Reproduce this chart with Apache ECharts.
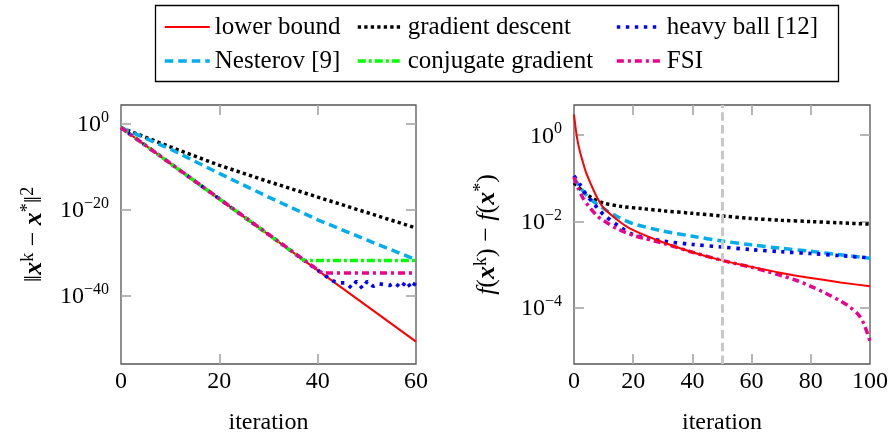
<!DOCTYPE html>
<html>
<head>
<meta charset="utf-8">
<script src="https://cdn.jsdelivr.net/npm/echarts@6/dist/echarts.min.js"></script>
<style>
  html, body { margin: 0; padding: 0; background: #fff; }
  #chart { width: 890px; height: 435px; }
</style>
</head>
<body>
<div id="chart"></div>
<script>
// all y values are log10 of the plotted quantity, [iteration, log10 value]
// left panel: ||x^k - x*||^2
const leftLowerBound = [[0, -0.93], [60, -50.8]];
const leftGradient = [[0, -0.93], [10, -5.4], [20, -9.7], [30, -13.5], [40, -17.1], [50, -20.7], [60, -24.3]];
const leftHeavyBall = [[0, -0.93], [42, -35.8], [42.7, -36.5], [44.3, -37.1], [45.7, -37.1], [46.9, -38.3],
  [47.9, -36.7], [49.1, -38.4], [50.1, -36.7], [51.3, -37.9], [52.4, -37.3], [53.5, -37.5], [54.6, -37.7],
  [55.7, -37.1], [56.9, -38.3], [58, -36.7], [59.1, -38.4], [60, -36.8]];
const leftNesterov = [[0, -0.93], [10, -5.9], [20, -11.6], [30, -17.1], [40, -22.4], [50, -27.1], [60, -31.7]];
const leftConjugate = [[0, -0.93], [37.3, -31.9], [60, -31.9]];
const leftFSI = [[0, -0.93], [40.9, -34.8], [60, -34.8]];

// right panel: f(x^k) - f(x*)
const rightLowerBound = [[0, 0.48], [1, -0.05], [2, -0.38], [3, -0.62], [4, -0.85], [6, -1.18], [8, -1.47],
  [10, -1.68], [15, -1.98], [20, -2.2], [30, -2.48], [40, -2.71], [50, -2.9], [60, -3.05], [70, -3.19],
  [80, -3.31], [90, -3.41], [100, -3.5]];
const rightGradient = [[0, -1.1], [1, -1.17], [3, -1.3], [6, -1.45], [10, -1.57], [16, -1.65], [23, -1.7],
  [30, -1.75], [40, -1.81], [50, -1.87], [60, -1.93], [70, -1.97], [80, -2.0], [90, -2.03], [100, -2.06]];
const rightNesterov = [[0, -0.99], [2, -1.2], [5, -1.45], [10, -1.7], [15, -1.9], [20, -2.05], [30, -2.22],
  [40, -2.34], [50, -2.45], [60, -2.54], [70, -2.62], [80, -2.69], [90, -2.77], [100, -2.85]];
const rightHeavyBall = [[0, -0.94], [2, -1.14], [4, -1.37], [6, -1.53], [8, -1.69], [10, -1.84], [15, -2.1],
  [20, -2.3], [30, -2.45], [40, -2.53], [50, -2.59], [60, -2.65], [70, -2.7], [80, -2.74], [90, -2.79], [100, -2.84]];
const rightFSI = [[0, -0.97], [1.5, -1.24], [3, -1.45], [5, -1.65], [8, -1.88], [10, -1.98], [15, -2.18],
  [20, -2.32], [30, -2.5], [40, -2.71], [50, -2.9], [60, -3.06], [65, -3.15], [70, -3.25], [75, -3.36],
  [80, -3.5], [85, -3.66], [90, -3.84], [93, -3.97], [96, -4.15], [98, -4.38], [100, -4.78]];

const leftYTicks = [-40, -20, 0];
const rightYTicks = [-4, -2, 0];
const leftXTicks = [0, 20, 40, 60];
const rightXTicks = [0, 20, 40, 60, 80, 100];
const markerIteration = 50;

const FONT = 'Liberation Serif';
const names = {
  lb: 'lower bound', gd: 'gradient descent', hb: 'heavy ball [12]',
  nes: 'Nesterov [9]', cg: 'conjugate gradient', fsi: 'FSI'
};
const styles = {
  lb: { color: '#ff0000', width: 2, type: 'solid' },
  gd: { color: '#000000', width: 3.5, type: [3.3, 3.2] },
  hb: { color: '#0000ff', width: 3.7, type: [3.4, 5.6] },
  nes: { color: '#00aeef', width: 3.5, type: [8.5, 5] },
  cg: { color: '#00ff00', width: 3.5, type: [8, 3, 3, 3] },
  fsi: { color: '#ec008c', width: 3.5, type: [7, 4, 3, 4] }
};

const rich = {
  n: { fontFamily: FONT, fontSize: 26, color: '#000', verticalAlign: 'bottom', lineHeight: 30 },
  i: { fontFamily: FONT, fontSize: 26, color: '#000', fontStyle: 'italic', verticalAlign: 'bottom', lineHeight: 30 },
  bx: { fontFamily: FONT, fontSize: 26, color: '#000', fontStyle: 'italic', fontWeight: 'bold', verticalAlign: 'bottom', lineHeight: 30 },
  s: { fontFamily: FONT, fontSize: 18, color: '#000', verticalAlign: 'bottom', lineHeight: 18, padding: [0, 0, 10, 0] }
};
const tickRich = {
  b: { fontFamily: FONT, fontSize: 24, color: '#000', verticalAlign: 'bottom', lineHeight: 26 },
  s: { fontFamily: FONT, fontSize: 16, color: '#000', verticalAlign: 'bottom', lineHeight: 16, padding: [0, 0, 11, 0] }
};

function powLabel(v) {
  const e = Math.round(v);
  return '{b|10}{s|' + (e < 0 ? '\u2212' + Math.abs(e) : e) + '}';
}

const tickStyle = { show: true, inside: true, length: 10, lineStyle: { color: '#aaaaaa', width: 1.7 } };
const noLine = { show: false, onZero: false };

function xAxes(gridIndex, max, ticks) {
  const inner = ticks.filter(t => t > 0 && t < max);
  return [
    {
      type: 'value', gridIndex: gridIndex, min: 0, max: max, interval: 20, position: 'bottom',
      axisLine: noLine, splitLine: { show: false },
      axisTick: Object.assign({ customValues: inner }, tickStyle),
      axisLabel: { customValues: ticks, margin: 6, fontFamily: FONT, fontSize: 24, color: '#000' },
      name: 'iteration', nameLocation: 'middle', nameGap: 47,
      nameTextStyle: { fontFamily: FONT, fontSize: 24, color: '#000' }
    },
    {
      type: 'value', gridIndex: gridIndex, min: 0, max: max, interval: 20, position: 'top',
      axisLine: noLine, splitLine: { show: false },
      axisTick: Object.assign({ customValues: inner }, tickStyle),
      axisLabel: { show: false }
    }
  ];
}

function yAxes(gridIndex, min, max, ticks, name) {
  return [
    {
      type: 'value', gridIndex: gridIndex, min: min, max: max, position: 'left',
      axisLine: noLine, splitLine: { show: false },
      axisTick: Object.assign({ customValues: ticks }, tickStyle),
      axisLabel: { customValues: ticks, margin: 12, formatter: powLabel, rich: tickRich },
      name: name, nameLocation: 'middle', nameGap: 74, nameRotate: 90,
      nameTextStyle: { rich: rich }
    },
    {
      type: 'value', gridIndex: gridIndex, min: min, max: max, position: 'right',
      axisLine: noLine, splitLine: { show: false },
      axisTick: Object.assign({ customValues: ticks }, tickStyle),
      axisLabel: { show: false }
    }
  ];
}

function line(key, data, xi, yi, smooth) {
  const st = styles[key];
  return {
    name: names[key], type: 'line', data: data, xAxisIndex: xi, yAxisIndex: yi,
    symbol: 'none', showSymbol: false, silent: true, smooth: smooth ? 0.3 : false,
    color: st.color,
    lineStyle: { color: st.color, width: st.width, type: st.type }
  };
}

function legendItem(key) {
  return { name: names[key], lineStyle: { width: styles[key].width } };
}

function legendCol(left, keys) {
  return {
    orient: 'vertical', left: left, top: 14, padding: 0,
    itemWidth: 45, itemHeight: 14, itemGap: 8,
    selectedMode: false,
    itemStyle: { opacity: 0 },
    textStyle: { fontFamily: FONT, fontSize: 25, color: '#000', lineHeight: 26 },
    data: keys.map(legendItem)
  };
}

const leftName = '{n|\u2016}{bx|x}{s|k}{n| \u2212 }{bx|x}{s|*}{n|\u2016}{s|2}';
const rightName = '{i|f}{n|(}{bx|x}{s|k}{n|) \u2212 }{i|f}{n|(}{bx|x}{s|*}{n|)}';

const gdRight = line('gd', rightGradient, 2, 2, true);
gdRight.markLine = {
  silent: true, symbol: 'none', label: { show: false },
  lineStyle: { color: '#c8c8c8', width: 3, type: [8.5, 4.3] },
  data: [{ xAxis: markerIteration }]
};

const gridBase = {
  top: 105, height: 259, show: true, borderColor: '#555', borderWidth: 1.3,
  backgroundColor: 'transparent', containLabel: false, outerBoundsMode: 'none'
};

const chart = echarts.init(document.getElementById('chart'), null, { renderer: 'canvas' });
chart.setOption({
  animation: false,
  backgroundColor: '#ffffff',
  textStyle: { fontFamily: FONT },
  graphic: [{
    type: 'rect', left: 153, top: 3, silent: true,
    shape: { width: 683, height: 76 },
    style: { fill: 'none', stroke: '#000', lineWidth: 1.3 }
  }],
  legend: [
    legendCol(163, ['lb', 'nes']),
    legendCol(356, ['gd', 'cg']),
    legendCol(615, ['hb', 'fsi'])
  ],
  grid: [
    Object.assign({ left: 121, width: 295 }, gridBase),
    Object.assign({ left: 574, width: 296 }, gridBase)
  ],
  xAxis: xAxes(0, 60, leftXTicks).concat(xAxes(1, 100, rightXTicks)),
  yAxis: yAxes(0, -56, 4.35, leftYTicks, leftName).concat(yAxes(1, -5.3, 0.7, rightYTicks, rightName)),
  series: [
    line('lb', leftLowerBound, 0, 0, false),
    line('gd', leftGradient, 0, 0, false),
    line('hb', leftHeavyBall, 0, 0, false),
    line('nes', leftNesterov, 0, 0, false),
    line('cg', leftConjugate, 0, 0, false),
    line('fsi', leftFSI, 0, 0, false),
    gdRight,
    line('nes', rightNesterov, 2, 2, true),
    line('hb', rightHeavyBall, 2, 2, true),
    line('fsi', rightFSI, 2, 2, true),
    line('lb', rightLowerBound, 2, 2, true)
  ]
});
</script>
</body>
</html>
